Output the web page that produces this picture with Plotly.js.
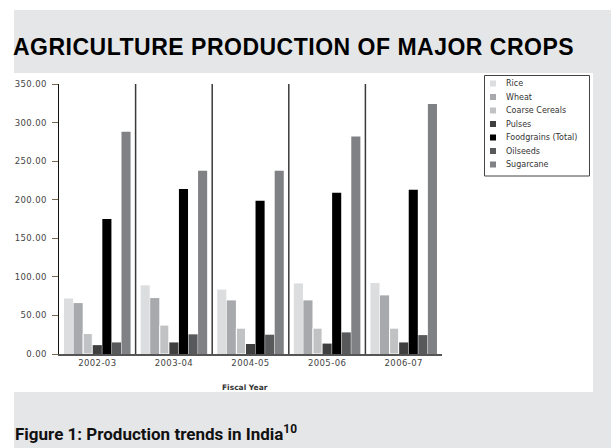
<!DOCTYPE html>
<html>
<head>
<meta charset="utf-8">
<script src="https://cdn.plot.ly/plotly-3.0.1.min.js"></script>
<style>
html,body{margin:0;padding:0;background:#fff;}
#chart{width:611px;height:448px;}
#chart .gtitle{letter-spacing:0.5px;}
#chart .ytick text,#chart .xtick text{letter-spacing:0.4px;}
</style>
</head>
<body>
<div id="chart"></div>
<script>
// ---- data ----
const years = ["2002-03", "2003-04", "2004-05", "2005-06", "2006-07"];
const seriesNames = ["Rice", "Wheat", "Coarse Cereals", "Pulses", "Foodgrains (Total)", "Oilseeds", "Sugarcane"];
const rice       = [72.0, 89.0, 83.5, 91.5, 92.0];
const wheat      = [66.0, 72.5, 69.5, 69.5, 76.0];
const coarse     = [26.5, 37.5, 33.5, 33.5, 33.5];
const pulses     = [11.5, 15.0, 13.0, 13.5, 15.0];
const foodgrains = [175.0, 214.0, 198.5, 209.0, 213.0];
const oilseeds   = [15.0, 25.5, 25.0, 28.0, 24.5];
const sugarcane  = [288.0, 237.5, 237.5, 282.0, 324.0];
const seriesValues = [rice, wheat, coarse, pulses, foodgrains, oilseeds, sugarcane];
const seriesColors = ["#dcdddf", "#a8a9ac", "#c1c2c4", "#3f3f40", "#000000", "#58595b", "#808184"];
const yTicks = [0, 50, 100, 150, 200, 250, 300, 350];

// ---- geometry helpers (pixel -> paper) ----
const W = 611, H = 448;
const L = 59, R = 442, T = 84, B = 354;
const px = p => (p - L) / (R - L);
const py = p => (B - p) / (B - T);

const traces = seriesNames.map((name, i) => ({
  type: "bar",
  name: name,
  x: years,
  y: seriesValues[i],
  marker: {
    color: seriesColors[i],
    line: i === 2 ? {color: "#ffffff", width: 1} : {width: 0}
  },
  showlegend: false,
  hoverinfo: "x+y+name"
}));

const shapes = [
  // grey panel
  {type: "rect", xref: "paper", yref: "paper", x0: px(14), x1: px(611), y0: py(10), y1: py(448),
   fillcolor: "#e5e6e8", line: {width: 0}, layer: "below"},
  // white chart area
  {type: "rect", xref: "paper", yref: "paper", x0: px(14), x1: px(593), y0: py(73), y1: py(392),
   fillcolor: "#ffffff", line: {width: 0}, layer: "below"},
  // legend box
  {type: "rect", xref: "paper", yref: "paper", x0: px(484.5), x1: px(589.5), y0: py(75.5), y1: py(176),
   fillcolor: "#ffffff", line: {color: "#444444", width: 1}, layer: "above"}
];
// category separators
for (let i = 0; i < years.length - 1; i++) {
  shapes.push({type: "line", xref: "x", yref: "paper", x0: i + 0.5, x1: i + 0.5, y0: 0, y1: 1,
               line: {color: "#3a3a3a", width: 1.5}, layer: "above"});
}

const annotations = [
  {text: "<b>Fiscal Year</b>", xref: "paper", yref: "paper", x: px(245), y: py(387.5), showarrow: false,
   xanchor: "center", yanchor: "middle", font: {family: "DejaVu Sans", size: 7.5, color: "#333"}},
  {text: "<b>Figure 1: Production trends in India<sup>10</sup></b>", xref: "paper", yref: "paper",
   x: px(13), y: py(433), showarrow: false, xanchor: "left", yanchor: "middle",
   font: {family: "Roboto", size: 17, color: "#111"}}
];
// legend entries
seriesNames.forEach((name, i) => {
  const cy = 83.5 + i * 13.5;
  shapes.push({type: "rect", xref: "paper", yref: "paper", x0: px(490), x1: px(496), y0: py(cy - 3), y1: py(cy + 3),
               fillcolor: seriesColors[i], line: {width: 0}, layer: "above"});
  annotations.push({text: name, xref: "paper", yref: "paper", x: px(504), y: py(cy), showarrow: false,
                    xanchor: "left", yanchor: "middle",
                    font: {family: "DejaVu Sans", size: 8, color: "#333"}});
});

const layout = {
  width: W, height: H,
  margin: {l: L, r: W - R, t: T, b: H - B, pad: 0},
  paper_bgcolor: "#ffffff",
  plot_bgcolor: "rgba(0,0,0,0)",
  title: {
    text: "<b>AGRICULTURE PRODUCTION OF MAJOR CROPS</b>",
    xref: "container", yref: "container",
    x: 13 / W, xanchor: "left",
    y: 1 - 47 / H, yanchor: "middle",
    font: {family: "Liberation Sans", size: 23, color: "#000"}
  },
  barmode: "group",
  bargap: 0.125,
  bargroupgap: 0.05,
  showlegend: false,
  xaxis: {
    type: "category",
    range: [-0.5, 4.5],
    showline: true, linecolor: "#555555", linewidth: 1.5,
    ticks: "", showgrid: false, zeroline: false,
    tickfont: {family: "DejaVu Sans", size: 8.5, color: "#444"}
  },
  yaxis: {
    range: [0, 350],
    tickvals: yTicks,
    tickformat: ".2f",
    ticks: "outside", ticklen: 6, tickwidth: 1, tickcolor: "#7a6a50",
    ticklabelstandoff: 3,
    showline: true, linecolor: "#111111", linewidth: 1.5,
    showgrid: false, zeroline: false,
    tickfont: {family: "DejaVu Sans", size: 8.5, color: "#444"}
  },
  shapes: shapes,
  annotations: annotations
};

Plotly.newPlot("chart", traces, layout, {displayModeBar: false, staticPlot: true});
</script>
</body>
</html>
